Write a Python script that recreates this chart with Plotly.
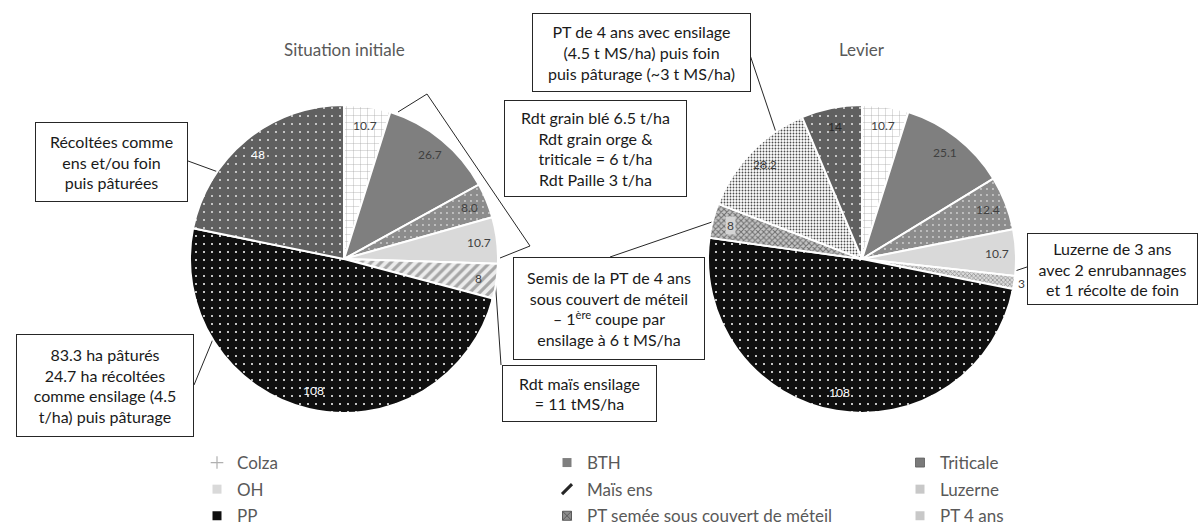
import math
import plotly.graph_objects as go

W, H = 1200, 527
FONT = "Lato"

# ---- data -------------------------------------------------------------
categories = [
    "Colza", "BTH", "Triticale", "OH", "Maïs ens", "Luzerne", "PP",
    "PT semée sous couvert de méteil", "PT 4 ans", "PT récoltées",
]
values_initial = [10.7, 26.7, 8.0, 10.7, 8, 0, 108, 0, 0, 48]
values_levier = [10.7, 25.1, 12.4, 10.7, 0, 3, 108, 8, 28.2, 14]
pie_titles = ["Situation initiale", "Levier"]
# legend laid out in three columns, read row by row
legend_columns = [
    ["Colza", "OH", "PP"],
    ["BTH", "Maïs ens", "PT semée sous couvert de méteil"],
    ["Triticale", "Luzerne", "PT 4 ans"],
]

# ---- styles -----------------------------------------------------------
slice_style = {
    "Colza":     dict(bg="#ffffff", fg="#a0a0a0", shape="+", size=7, sol=0.1),
    "BTH":       dict(bg="#7f7f7f", fg="#7f7f7f", shape="", size=8, sol=0.3),
    "Triticale": dict(bg="#8c8c8c", fg="#d0d0d0", shape=".", size=6, sol=0.08),
    "OH":        dict(bg="#d9d9d9", fg="#d9d9d9", shape="", size=8, sol=0.3),
    "Maïs ens":  dict(bg="#ececec", fg="#a6a6a6", shape="/", size=7, sol=0.45),
    "Luzerne":   dict(bg="#d9d9d9", fg="#8c8c8c", shape="x", size=3, sol=0.4),
    "PP":        dict(bg="#0f0f0f", fg="#ffffff", shape=".", size=8, sol=0.05),
    "PT semée sous couvert de méteil":
                 dict(bg="#c4c4c4", fg="#6e6e6e", shape="x", size=4, sol=0.45),
    "PT 4 ans":  dict(bg="#ffffff", fg="#4d4d4d", shape=".", size=3, sol=0.3),
    "PT récoltées": dict(bg="#606060", fg="#e6e6e6", shape=".", size=8, sol=0.05),
}

legend_icon = {
    "Colza": dict(symbol="cross-thin", size=9, color="#b0b0b0",
                  line=dict(color="#b0b0b0", width=1.2)),
    "BTH": dict(symbol="square", size=9, color="#7f7f7f"),
    "Triticale": dict(symbol="square", size=9, color="#7a7a7a",
                      line=dict(color="#595959", width=0.8)),
    "OH": dict(symbol="square", size=9, color="#d9d9d9"),
    "Maïs ens": dict(symbol="line-ne", size=10, color="#262626",
                     line=dict(color="#262626", width=3)),
    "Luzerne": dict(symbol="square", size=9, color="#c8c8c8"),
    "PP": dict(symbol="square", size=9, color="#0f0f0f"),
    "PT semée sous couvert de méteil": dict(symbol="square-x", size=9, color="#8c8c8c",
                                             line=dict(color="#5a5a5a", width=1)),
    "PT 4 ans": dict(symbol="square", size=9, color="#c8c8c8"),
}

# pie geometry (pixels)
CY, R = 259, 154
CX = [344, 862]
LABEL_R = 0.88
LEGEND_X = [197, 547, 900]
LEGEND_TOP = 445


def px(x):
    return x / W


def py(y):
    return 1 - y / H


def make_pie(values, cx):
    keep = [i for i, v in enumerate(values) if v > 0]
    labels = [categories[i] for i in keep]
    vals = [values[i] for i in keep]
    st = [slice_style[c] for c in labels]
    return go.Pie(
        labels=labels, values=vals, textinfo="none",
        sort=False, direction="clockwise", rotation=0,
        domain=dict(x=[px(cx - R), px(cx + R)], y=[py(CY + R), py(CY - R)]),
        marker=dict(
            colors=[s["bg"] for s in st],
            line=dict(color="#ffffff", width=2),
            pattern=dict(
                shape=[s["shape"] for s in st],
                fgcolor=[s["fg"] for s in st],
                bgcolor=[s["bg"] for s in st],
                size=[s["size"] for s in st],
                solidity=[s["sol"] for s in st],
            ),
        ),
        showlegend=False, hoverinfo="label+value",
    )


def value_labels(values, cx, text_colors, outside, boxed):
    """Data labels placed on each slice's mid angle (clockwise from 12 o'clock)."""
    total = sum(values)
    out = []
    cum = 0.0
    for i, v in enumerate(values):
        if v <= 0:
            continue
        cat = categories[i]
        ang = (cum + v / 2) / total * 2 * math.pi
        cum += v
        rf = 1.05 if cat in outside else LABEL_R
        x = cx + rf * R * math.sin(ang)
        y = CY - rf * R * math.cos(ang)
        txt = f"{v:.1f}" if i < 4 else f"{v:g}"
        out.append(dict(
            x=px(x), y=py(y), xref="paper", yref="paper", text=txt,
            showarrow=False, xanchor="center", yanchor="middle",
            bgcolor="#d4d4d4" if cat in boxed else "rgba(0,0,0,0)", borderpad=1,
            font=dict(family=FONT, size=12, color=text_colors.get(cat, "#404040")),
        ))
    return out


fig = go.Figure()
fig.add_trace(make_pie(values_initial, CX[0]))
fig.add_trace(make_pie(values_levier, CX[1]))

# legend entries, one legend per column
legend_layouts = {}
for k, column in enumerate(legend_columns):
    lid = "legend" if k == 0 else f"legend{k + 1}"
    for cat in column:
        fig.add_trace(go.Scatter(x=[None], y=[None], mode="markers", name=cat,
                                 marker=legend_icon[cat], hoverinfo="skip",
                                 legend=lid, legendgroup=cat))
    legend_layouts[lid] = dict(
        orientation="v", x=px(LEGEND_X[k]), y=py(LEGEND_TOP),
        xanchor="left", yanchor="top", traceorder="grouped", tracegroupgap=1.5,
        font=dict(family=FONT, size=17, color="#595959"),
        bgcolor="rgba(0,0,0,0)", itemclick=False, itemdoubleclick=False,
    )

annotations = []
annotations += value_labels(values_initial, CX[0],
                            {"PP": "#ffffff", "PT récoltées": "#ffffff"}, set(), set())
annotations += value_labels(values_levier, CX[1],
                            {"PP": "#ffffff", "PT récoltées": "#2b2b2b"}, {"Luzerne"},
                            {"PT semée sous couvert de méteil"})

for t, cx in zip(pie_titles, CX):
    annotations.append(dict(x=px(cx), y=py(50), xref="paper", yref="paper",
                            text=t, showarrow=False, xanchor="center", yanchor="middle",
                            font=dict(family=FONT, size=17, color="#595959")))

# callout boxes: (text, centre x, centre y, width, height)
boxes = [
    ("Récoltées comme<br>ens et/ou foin<br>puis pâturées", 111.5, 162, 153, 80),
    ("Rdt grain blé 6.5 t/ha<br>Rdt grain orge &<br>triticale = 6 t/ha<br>Rdt Paille 3 t/ha",
     595.5, 148.5, 183, 97),
    ("PT de 4 ans avec ensilage<br>(4.5 t MS/ha) puis foin<br>puis pâturage (~3 t MS/ha)",
     641.5, 52.5, 219, 79),
    ("83.3 ha pâturés<br>24.7 ha récoltées<br>comme ensilage (4.5<br>t/ha) puis pâturage",
     105, 385.5, 178, 103),
    ("Semis de la PT de 4 ans<br>sous couvert de méteil<br>– 1<sup>ère</sup> coupe par<br>ensilage à 6 t MS/ha",
     609, 308.5, 192, 103),
    ("Rdt maïs ensilage<br>= 11 tMS/ha", 579.5, 393.5, 155, 57),
    ("Luzerne de 3 ans<br>avec 2 enrubannages<br>et 1 récolte de foin", 1112.5, 269, 171, 72),
]
for text, bx, by, bw, bh in boxes:
    annotations.append(dict(
        x=px(bx), y=py(by), xref="paper", yref="paper", text=text, showarrow=False,
        xanchor="center", yanchor="middle", width=bw - 2, height=bh - 2,
        borderpad=0, borderwidth=1, bordercolor="#262626", bgcolor="#ffffff",
        align="center", valign="middle",
        font=dict(family=FONT, size=16, color="#1a1a1a"),
    ))

# leader lines
leaders = [
    [(188, 161), (262, 188)],
    [(398, 112), (427, 94), (530, 246), (500, 258)],
    [(750, 55), (787, 165)],
    [(194, 385), (230, 298)],
    [(610, 257), (712, 222)],
    [(495, 277), (501, 365)],
    [(1027, 267), (985, 281)],
]
shapes = []
for pts in leaders:
    path = "M " + " L ".join(f"{px(x):.5f},{py(y):.5f}" for x, y in pts)
    shapes.append(dict(type="path", path=path, xref="paper", yref="paper",
                       line=dict(color="#262626", width=1), layer="below"))

fig.update_layout(
    width=W, height=H,
    margin=dict(l=0, r=0, t=0, b=0, autoexpand=False),
    paper_bgcolor="#ffffff", plot_bgcolor="#ffffff",
    xaxis=dict(visible=False), yaxis=dict(visible=False),
    annotations=annotations, shapes=shapes,
    showlegend=True,
    **legend_layouts,
)

fig.write_html("out.html")
